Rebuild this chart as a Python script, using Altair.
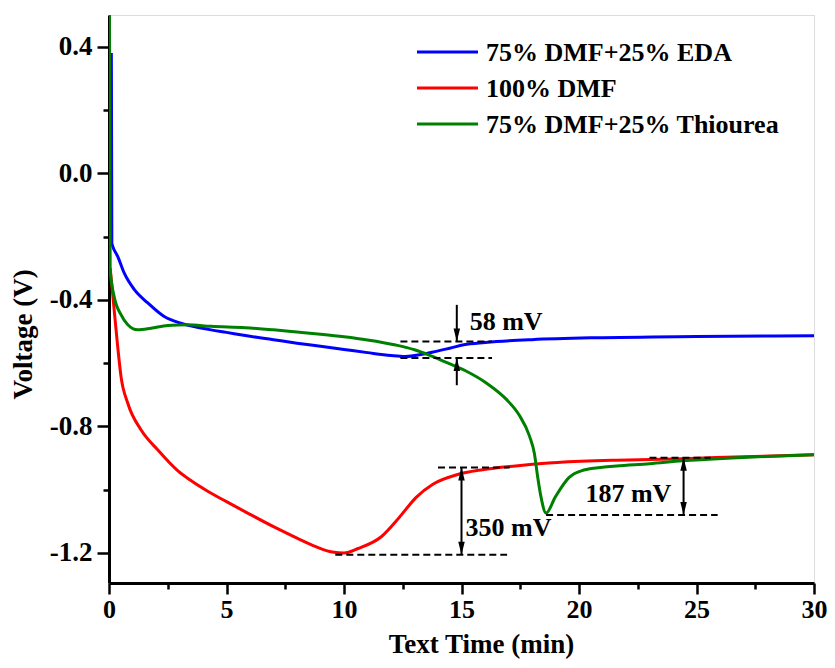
import altair as alt
import pandas as pd

# ---- data ----
series_names = ["75% DMF+25% EDA", "100% DMF", "75% DMF+25% Thiourea"]
series_colors = ["#0000FF", "#FF0000", "#008000"]

t_eda = [0.10, 0.12, 0.16, 0.37, 0.65, 1.08, 1.65, 2.35, 3.06, 3.91, 4.34, 5.0, 5.8, 7.0,
         8.0, 9.0, 10.0, 11.0, 12.0, 12.6, 13.6, 14.5, 15.1, 16.0, 16.5, 18.0, 20.7, 25.0, 30.0]
v_eda = [0.38, -0.22, -0.231, -0.263, -0.316, -0.368, -0.41, -0.453, -0.474, -0.489, -0.495,
         -0.503, -0.513, -0.526, -0.537, -0.547, -0.557, -0.567, -0.576, -0.579, -0.568, -0.553,
         -0.542, -0.535, -0.532, -0.526, -0.52, -0.516, -0.514]

t_dmf = [0.05, 0.22, 0.37, 0.51, 0.8, 1.36, 2.07, 2.92, 3.5, 4.2, 5.0, 6.0, 7.0, 8.0, 8.8,
         9.5, 10.0, 10.6, 11.6, 12.35, 13.06, 13.8, 14.8, 15.9, 17.3, 18.7, 20.7, 21.6, 24.4,
         27.0, 30.0]
v_dmf = [-0.30, -0.432, -0.548, -0.642, -0.727, -0.811, -0.874, -0.94, -0.972, -1.005, -1.038,
         -1.078, -1.117, -1.153, -1.18, -1.197, -1.2, -1.186, -1.148, -1.088, -1.025, -0.982, -0.953,
         -0.937, -0.925, -0.916, -0.909, -0.907, -0.902, -0.896, -0.89]

t_thio = [0.02, 0.05, 0.22, 0.51, 0.8, 1.22, 1.79, 2.5, 3.35, 4.34, 5.8, 7.0, 8.0, 9.0, 10.0,
          11.0, 12.2, 13.0, 13.6, 14.3, 15.19, 16.04, 16.9, 17.46, 17.89, 18.1, 18.24, 18.38,
          18.6, 19.0, 19.57, 20.2, 21.0, 21.6, 23.0, 24.4, 26.5, 28.0, 30.0]
v_thio = [0.50, -0.305, -0.39, -0.447, -0.479, -0.495, -0.49, -0.481, -0.479, -0.484, -0.488,
          -0.495, -0.502, -0.509, -0.517, -0.527, -0.543, -0.558, -0.574, -0.596, -0.625, -0.662,
          -0.714, -0.765, -0.83, -0.885, -0.959, -1.022, -1.074, -1.022, -0.962, -0.938, -0.929,
          -0.925, -0.918, -0.909, -0.90, -0.895, -0.89]

# annotations (data units)
dash_x1 = [12.4, 12.4, 14.0, 9.63, 23.0, 18.6]
dash_x2 = [16.3, 16.3, 17.05, 16.94, 25.6, 25.9]
dash_y = [-0.532, -0.584, -0.93, -1.206, -0.899, -1.08]

shaft_x = [14.8, 14.8, 15.0, 24.45]
shaft_y1 = [-0.416, -0.67, -0.93, -0.899]
shaft_y2 = [-0.532, -0.584, -1.206, -1.08]

head_x = [14.8, 14.8, 15.0, 15.0, 24.45, 24.45]
head_y = [-0.532, -0.584, -0.93, -1.206, -0.899, -1.08]
head_dir = ["down", "up", "up", "down", "up", "down"]

label_x = [16.9, 17.0, 22.1]
label_y = [-0.47, -1.121, -1.013]
label_text = ["58 mV", "350 mV", "187 mV"]

# ---- tables ----
rows = []
for name, ts, vs in zip(series_names, [t_eda, t_dmf, t_thio], [v_eda, v_dmf, v_thio]):
    for i, (t, v) in enumerate(zip(ts, vs)):
        rows.append({"series": name, "t": t, "v": v, "idx": i})
df = pd.DataFrame(rows)

dash_df = pd.DataFrame({"x1": dash_x1, "x2": dash_x2, "y": dash_y})
shaft_df = pd.DataFrame({"x": shaft_x, "y1": shaft_y1, "y2": shaft_y2})
head_df = pd.DataFrame({"x": head_x, "y": head_y, "dir": head_dir})
label_df = pd.DataFrame({"x": label_x, "y": label_y, "text": label_text})

FONT = "Liberation Serif"

xscale = alt.Scale(domain=[0, 30], nice=False, zero=False)
yscale = alt.Scale(domain=[-1.295, 0.5], nice=False, zero=False)

xaxis = alt.Axis(
    title="Text Time (min)",
    values=[0, 2.5, 5, 7.5, 10, 12.5, 15, 17.5, 20, 22.5, 25, 27.5, 30],
    labelExpr="datum.value % 5 === 0 ? format(datum.value, 'd') : ''",
    tickSize={"condition": {"test": "datum.value % 5 === 0", "value": 11}, "value": 6},
    grid=False, labelFont=FONT, labelFontSize=26, labelFontWeight="bold", labelColor="black",
    labelPadding=2, labelFlush=False, labelOverlap=False,
    titleFont=FONT, titleFontSize=27, titleFontWeight="bold", titleColor="black",
    titleX=372, titleY=69, titleBaseline="alphabetic", titleAlign="center",
    domainColor="black", domainWidth=3, tickColor="black", tickWidth=2.5,
)
yaxis = alt.Axis(
    title="Voltage (V)",
    values=[-1.2, -1.0, -0.8, -0.6, -0.4, -0.2, 0.0, 0.2, 0.4],
    labelExpr="abs(round(datum.value*10)) % 4 === 0 ? replace(format(datum.value, '.1f'), '\u2212', '-') : ''",
    tickSize={"condition": {"test": "abs(round(datum.value*10)) % 4 === 0", "value": 12}, "value": 6},
    grid=False, labelFont=FONT, labelFontSize=27, labelFontWeight="bold", labelColor="black",
    labelPadding=5, labelFlush=False, labelOverlap=False,
    titleFont=FONT, titleFontSize=27, titleFontWeight="bold", titleColor="black",
    titleX=-86, titleY=319, titleAlign="center", titleBaseline="middle", titleAngle=270,
    domainColor="black", domainWidth=3, tickColor="black", tickWidth=2.5,
)


def X(field):
    return alt.X(field, type="quantitative", scale=xscale, axis=xaxis)


def Y(field):
    return alt.Y(field, type="quantitative", scale=yscale, axis=yaxis)


lines = alt.Chart(df).mark_line(strokeWidth=3, clip=True, interpolate="monotone").encode(
    x=X("t"), y=Y("v"),
    color=alt.Color("series:N", scale=alt.Scale(domain=series_names, range=series_colors), legend=None),
    order="idx:Q",
)

dashes = alt.Chart(dash_df).mark_rule(color="black", strokeWidth=2, strokeDash=[7, 4]).encode(
    x=X("x1"), x2="x2", y=Y("y"),
)

shafts = alt.Chart(shaft_df).mark_rule(color="black", strokeWidth=2).encode(
    x=X("x"), y=Y("y1"), y2="y2",
)

DOWN = "M0,0 L-0.5,-2 L0.5,-2 Z"
UP = "M0,0 L-0.5,2 L0.5,2 Z"
heads = alt.Chart(head_df).mark_point(filled=True, color="black", opacity=1, size=169, strokeWidth=0).encode(
    x=X("x"), y=Y("y"),
    shape=alt.Shape("dir:N", scale=alt.Scale(domain=["down", "up"], range=[DOWN, UP]), legend=None),
)

labels = alt.Chart(label_df).mark_text(
    font=FONT, fontSize=26, fontWeight="bold", color="black", align="center", baseline="middle"
).encode(x=X("x"), y=Y("y"), text="text:N")

legend_layers = []
for i, (name, col) in enumerate(zip(series_names, series_colors)):
    ld = pd.DataFrame({"label": [name]})
    yy = 37 + i * 36
    legend_layers.append(
        alt.Chart(ld).mark_rule(strokeWidth=3, color=col).encode(
            x=alt.value(308), x2=alt.value(369), y=alt.value(yy)
        )
    )
    legend_layers.append(
        alt.Chart(ld).mark_text(font=FONT, fontSize=26, fontWeight="bold", color="black",
                                align="left", baseline="middle").encode(
            x=alt.value(377), y=alt.value(yy + 1), text="label:N"
        )
    )

chart = alt.layer(lines, dashes, shafts, heads, labels, *legend_layers).properties(
    width=705, height=568,
    padding={"left": 101, "top": 7, "right": 13, "bottom": 77},
    autosize=alt.AutoSizeParams(type="none"),
).configure_view(stroke="black", strokeWidth=3).configure(background="white")

chart.save("out.html", embed_options={"renderer": "svg", "actions": False})
